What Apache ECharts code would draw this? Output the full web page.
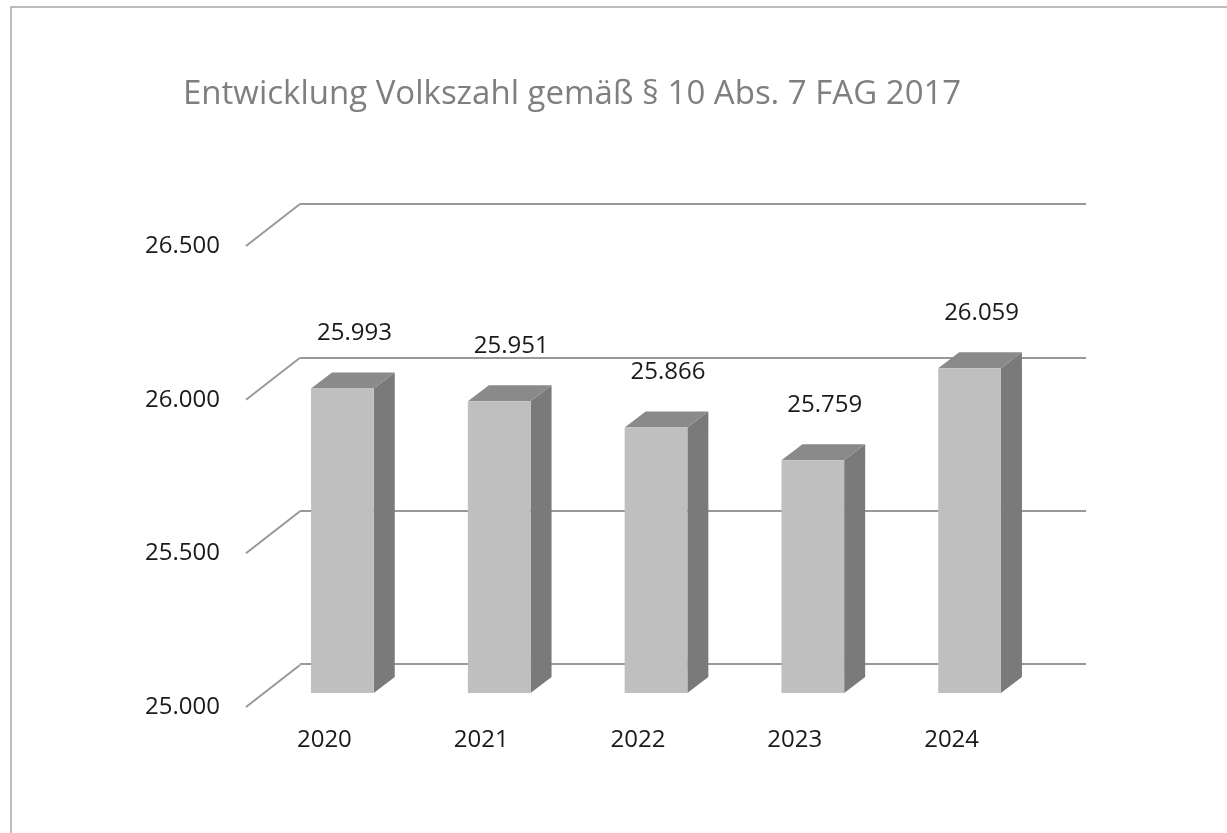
<!DOCTYPE html>
<html>
<head>
<meta charset="utf-8">
<script src="https://cdn.jsdelivr.net/npm/echarts@6/dist/echarts.min.js"></script>
<style>
  html, body { margin: 0; padding: 0; background: #fff; }
  #chart { width: 1227px; height: 833px; }
</style>
</head>
<body>
<div id="chart"></div>
<script>
// Daten
const years = ['2020', '2021', '2022', '2023', '2024']
const volkszahl = [25993, 25951, 25866, 25759, 26059]
const yTicks = [25000, 25500, 26000, 26500]

const Y_MIN = 25000
const Y_MAX = 26500
const Y_STEP = 500

// 3D-Tiefe (Pixel)
const BAR_DX = 21, BAR_DY = -16
const WALL_DX = 54, WALL_DY = -42

const FONT = 'Open Sans'

const fmt = (v) => String(v).replace(/\B(?=(\d{3})+(?!\d))/g, '.')

const chart = echarts.init(document.getElementById('chart'))

const hiddenCat = (gridIndex) => ({
  type: 'category', gridIndex, data: years, boundaryGap: true,
  axisLine: { show: false }, axisTick: { show: false }, axisLabel: { show: false }, splitLine: { show: false }
})

const option = {
  backgroundColor: '#fff',
  animation: false,
  title: {
    text: 'Entwicklung Volkszahl gemäß § 10 Abs. 7 FAG 2017',
    left: 178,
    top: 73,
    textStyle: { fontFamily: FONT, fontSize: 33, fontWeight: 'normal', color: '#7f7f7f' }
  },
  graphic: [{
    type: 'rect',
    shape: { x: 11, y: 7, width: 1400, height: 1000 },
    style: { fill: 'none', stroke: '#a6a6a6', lineWidth: 1.5 },
    silent: true, z: -1
  }],
  grid: [
    // Rückwand
    { left: 300, top: 204, width: 786, height: 460 },
    // Vorderkante (Beschriftung)
    { left: 246, top: 246, width: 784, height: 461 },
    // Säulen-Vorderseiten
    { left: 264, top: 233, width: 784, height: 460 }
  ],
  xAxis: [
    hiddenCat(0),
    {
      type: 'category', gridIndex: 1, data: years, boundaryGap: true,
      axisLine: { show: false }, axisTick: { show: false }, splitLine: { show: false },
      axisLabel: { margin: 21, fontFamily: FONT, fontSize: 24, color: '#1a1a1a' }
    },
    hiddenCat(2)
  ],
  yAxis: [
    {
      type: 'value', gridIndex: 0, min: Y_MIN, max: Y_MAX, interval: Y_STEP,
      axisLine: { show: false }, axisTick: { show: false }, axisLabel: { show: false },
      splitLine: { show: true, lineStyle: { color: '#999999', width: 2 } }
    },
    {
      type: 'value', gridIndex: 1, min: Y_MIN, max: Y_MAX, interval: Y_STEP,
      axisLine: { show: false }, axisTick: { show: false }, splitLine: { show: false },
      axisLabel: { margin: 26, fontFamily: FONT, fontSize: 24, color: '#1a1a1a', formatter: fmt }
    },
    {
      type: 'value', gridIndex: 2, min: Y_MIN, max: Y_MAX, interval: Y_STEP,
      axisLine: { show: false }, axisTick: { show: false }, axisLabel: { show: false }, splitLine: { show: false }
    }
  ],
  series: [
    {
      // schräge Linien der Seitenwand
      type: 'custom',
      xAxisIndex: 1, yAxisIndex: 1,
      data: yTicks.map(v => [0, v]),
      silent: true,
      z: 1,
      renderItem: (params, api) => {
        const p = api.coord([0, api.value(1)])
        const x = params.coordSys.x
        return {
          type: 'line',
          shape: { x1: x, y1: p[1], x2: x + WALL_DX, y2: p[1] + WALL_DY },
          style: { stroke: '#999999', lineWidth: 2 }
        }
      }
    },
    {
      type: 'custom',
      xAxisIndex: 2, yAxisIndex: 2,
      data: volkszahl.map((v, i) => [i, v]),
      z: 3,
      renderItem: (params, api) => {
        const top = api.coord([api.value(0), api.value(1)])
        const base = api.coord([api.value(0), Y_MIN])
        const w = api.size([1, 0])[0] * 0.4
        const x0 = top[0] - w / 2
        const x1 = top[0] + w / 2
        return {
          type: 'group',
          children: [
            {
              type: 'polygon',
              shape: { points: [[x1, top[1]], [x1 + BAR_DX, top[1] + BAR_DY], [x1 + BAR_DX, base[1] + BAR_DY], [x1, base[1]]] },
              style: { fill: '#7a7a7a' }
            },
            {
              type: 'polygon',
              shape: { points: [[x0, top[1]], [x1, top[1]], [x1 + BAR_DX, top[1] + BAR_DY], [x0 + BAR_DX, top[1] + BAR_DY]] },
              style: { fill: '#8a8a8a' }
            },
            {
              type: 'rect',
              shape: { x: x0, y: top[1], width: w, height: base[1] - top[1] },
              style: { fill: '#bfbfbf' }
            },
            {
              type: 'text',
              x: top[0] + 12,
              y: top[1] - 55,
              style: {
                text: fmt(api.value(1)),
                align: 'center', verticalAlign: 'middle',
                fontFamily: FONT, fontSize: 24, fill: '#1a1a1a'
              }
            }
          ]
        }
      }
    }
  ]
}

chart.setOption(option)
</script>
</body>
</html>
